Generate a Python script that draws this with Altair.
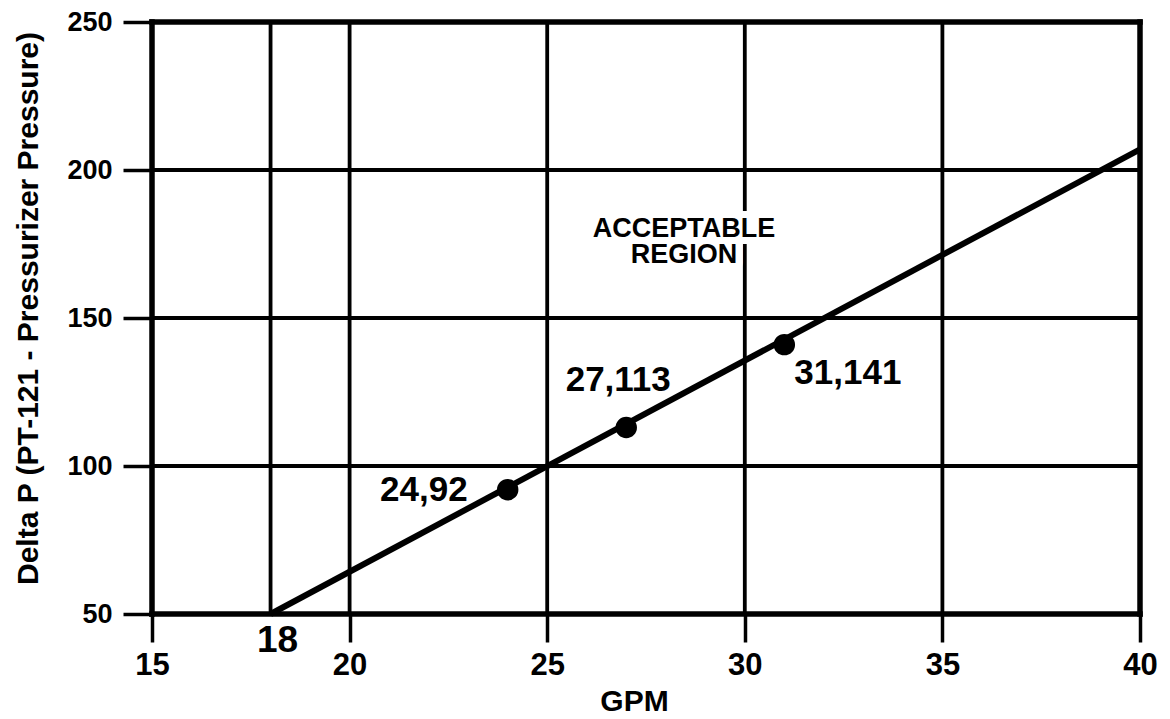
import altair as alt
import pandas as pd

# ---- data ----
x_ticks = [15, 20, 25, 30, 35, 40]
y_ticks = [50, 100, 150, 200, 250]
x_grid_inner = [18, 20, 25, 30, 35]
y_grid_inner = [100, 150, 200]
x_border = [15, 40]
y_border = [50, 250]
line_x = [18, 40]
line_y = [50, 207]
pt_x = [24, 27, 31]
pt_y = [92, 113, 141]
pt_lbl = ["24,92", "27,113", "31,141"]
mark18_x = [18]
mark18_y = [50]
mark18_lbl = ["18"]
region_x = [28.46]
region_y = [180]
region_lbl = ["ACCEPTABLE\nREGION"]

FONT = "Liberation Sans"
xs = alt.Scale(domain=[15, 40], nice=False, zero=False)
ys = alt.Scale(domain=[50, 250], nice=False, zero=False)

x_axis = alt.Axis(
    values=x_ticks, title="GPM", grid=False, domain=False,
    ticks=True, tickSize=28, tickWidth=3.5, tickColor="black",
    labelFont=FONT, labelFontWeight="bold", labelFontSize=31, labelColor="black",
    labelPadding=8, labelFlush=False, labelOverlap=False,
    titleFont=FONT, titleFontWeight="bold", titleFontSize=30, titleColor="black",
    titleX=482, titleY=96, titleBaseline="alphabetic", titleAlign="center",
)
y_axis = alt.Axis(
    values=y_ticks, title="Delta P (PT-121 - Pressurizer Pressure)", grid=False, domain=False,
    ticks=True, tickSize=29, tickWidth=3.5, tickColor="black",
    labelFont=FONT, labelFontWeight="bold", labelFontSize=27, labelColor="black",
    labelPadding=11, labelFlush=False, labelOverlap=False,
    titleFont=FONT, titleFontWeight="bold", titleFontSize=30, titleColor="black",
    titleAngle=270, titleX=-115, titleY=286, titleBaseline="alphabetic", titleAlign="center",
)

vgrid = alt.Chart(pd.DataFrame({"x": x_grid_inner})).mark_rule(
    color="black", strokeWidth=3.8
).encode(x=alt.X("x:Q", scale=xs, axis=x_axis))

hgrid = alt.Chart(pd.DataFrame({"y": y_grid_inner})).mark_rule(
    color="black", strokeWidth=3.8
).encode(y=alt.Y("y:Q", scale=ys, axis=y_axis))

vborder = alt.Chart(pd.DataFrame({"x": x_border})).mark_rule(
    color="black", strokeWidth=5.5, strokeCap="square"
).encode(x=alt.X("x:Q", scale=xs, axis=x_axis))

hborder = alt.Chart(pd.DataFrame({"y": y_border})).mark_rule(
    color="black", strokeWidth=5.5, strokeCap="square"
).encode(y=alt.Y("y:Q", scale=ys, axis=y_axis))

region_df = pd.DataFrame({"x": region_x, "y": region_y, "t": region_lbl})
region_bg = alt.Chart(region_df).mark_text(
    font=FONT, fontWeight="bold", fontSize=27, lineBreak="\n", lineHeight=26,
    align="center", baseline="middle", color="white", stroke="white", strokeWidth=14,
    strokeJoin="round",
).encode(x=alt.X("x:Q", scale=xs), y=alt.Y("y:Q", scale=ys), text="t:N")
region_txt = alt.Chart(region_df).mark_text(
    font=FONT, fontWeight="bold", fontSize=27, lineBreak="\n", lineHeight=26,
    align="center", baseline="middle", color="black",
).encode(x=alt.X("x:Q", scale=xs), y=alt.Y("y:Q", scale=ys), text="t:N")

line = alt.Chart(pd.DataFrame({"x": line_x, "y": line_y})).mark_line(
    color="black", strokeWidth=6
).encode(x=alt.X("x:Q", scale=xs), y=alt.Y("y:Q", scale=ys))

pts_df = pd.DataFrame({"x": pt_x, "y": pt_y, "t": pt_lbl})
pts = alt.Chart(pts_df).mark_circle(size=460, color="black", opacity=1).encode(
    x=alt.X("x:Q", scale=xs), y=alt.Y("y:Q", scale=ys)
)

def pt_label(lbl, align, dx, dy):
    return alt.Chart(pts_df).transform_filter(alt.datum.t == lbl).mark_text(
        font=FONT, fontWeight="bold", fontSize=35, color="black",
        align=align, baseline="middle", dx=dx, dy=dy,
    ).encode(x=alt.X("x:Q", scale=xs), y=alt.Y("y:Q", scale=ys), text="t:N")

lbl1 = pt_label(pt_lbl[0], "right", -40, 0)
lbl2 = pt_label(pt_lbl[1], "center", -8, -48)
lbl3 = pt_label(pt_lbl[2], "left", 10, 28)

m18 = alt.Chart(pd.DataFrame({"x": mark18_x, "y": mark18_y, "t": mark18_lbl})).mark_text(
    font=FONT, fontWeight="bold", fontSize=37, color="black",
    align="center", baseline="middle", dx=7, dy=27,
).encode(x=alt.X("x:Q", scale=xs), y=alt.Y("y:Q", scale=ys), text="t:N")

chart = alt.layer(
    vgrid, hgrid, vborder, hborder, region_bg, region_txt, line, pts, lbl1, lbl2, lbl3, m18
).properties(
    width=988, height=592,
    autosize=alt.AutoSizeParams(type="none"),
    padding={"left": 144, "top": 14, "right": 22, "bottom": 105},
    background="white",
).configure_view(stroke=None)

chart.save("out.html", embed_options={"renderer": "svg", "actions": False})
